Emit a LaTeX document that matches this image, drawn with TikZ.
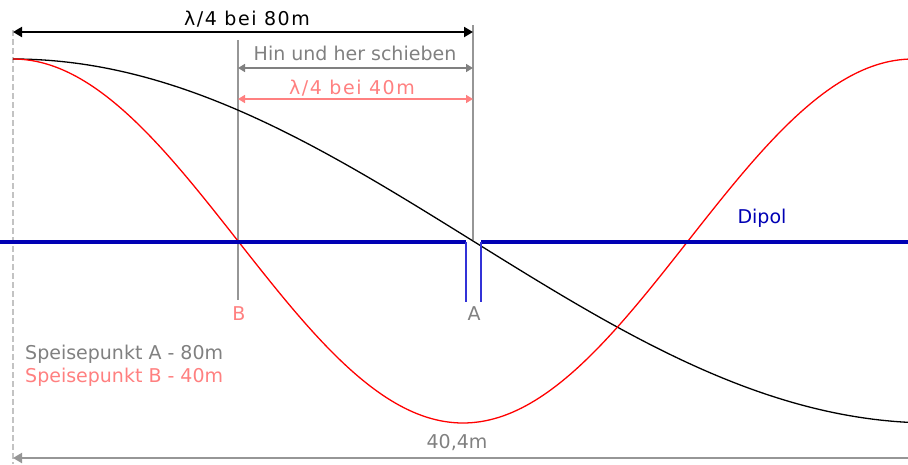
\documentclass[tikz,border=0pt]{standalone}
\usepackage{fontspec}
\setmainfont{DejaVu Sans}
\usetikzlibrary{arrows.meta}
\definecolor{dipolblue}{RGB}{0,0,180}
\definecolor{stubblue}{RGB}{50,50,215}
\definecolor{lightred}{RGB}{255,128,128}
\definecolor{midgray}{RGB}{128,128,128}
\definecolor{linegray}{RGB}{150,150,150}
\definecolor{dashgray}{RGB}{195,195,195}

\begin{document}
\begin{tikzpicture}[x=1pt, y=-1pt,
    lbl/.style={inner sep=0pt, font=\fontsize{19}{22}\selectfont},
    widelbl/.style={inner sep=0pt, font=\fontsize{19}{22}\selectfont\addfontfeature{LetterSpace=8}},
    bigdim/.style={{Triangle[length=9pt,width=10pt]}-{Triangle[length=9pt,width=10pt]}, line width=2pt},
    smalldim/.style={{Triangle[length=7pt,width=8pt]}-{Triangle[length=7pt,width=8pt]}, line width=1.5pt}]
    \useasboundingbox (0,0) rectangle (908,464);

    % reference points
    \coordinate (top0) at (13,30);
    \coordinate (bot0) at (13,464);
    \coordinate (arrL) at (13,32);
    \coordinate (arrR) at (473,32);
    \coordinate (Atop) at (473,25);
    \coordinate (Abot) at (473,240);
    \coordinate (Btop) at (238,40);
    \coordinate (Bbot) at (238,300);
    \coordinate (grayL) at (238,68);
    \coordinate (grayR) at (473,68);
    \coordinate (redL) at (238,99);
    \coordinate (redR) at (473,99);
    \coordinate (dipL) at (0,242);
    \coordinate (dipR) at (908,242);
    \coordinate (feedL) at (466,242);
    \coordinate (feedR) at (481,242);
    \coordinate (feedLb) at (466,302);
    \coordinate (feedRb) at (481,302);
    \coordinate (lenL) at (13,458);
    \coordinate (lenR) at (930,458);

    % guide lines
    \draw[dashgray, line width=1.5pt, dash pattern=on 6pt off 3pt] (top0) -- (bot0);
    \draw[linegray, line width=1.5pt] (Atop) -- (Abot);
    \draw[linegray, line width=1.5pt] (Btop) -- (Bbot);

    % dimensions
    \draw[bigdim, black] (arrL) -- (arrR);
    \draw[smalldim, midgray] (grayL) -- (grayR);
    \draw[smalldim, lightred] (redL) -- (redR);
    \draw[{Triangle[length=9pt,width=10pt]}-, line width=2pt, linegray] (lenL) -- (lenR);

    % curves
    \draw[black, line width=1.3pt] plot[domain=13:908, samples=200] (\x, {241-182*cos((\x-13)/920*180)});
    \draw[red, line width=1.3pt] plot[domain=13:908, samples=200] (\x, {241-182*cos((\x-13)/900*360)});

    % dipole with feed line
    \draw[dipolblue, line width=4pt] (dipL) -- (feedL);
    \draw[dipolblue, line width=4pt] (feedR) -- (dipR);
    \draw[stubblue, line width=2pt] (feedL) -- (feedLb);
    \draw[stubblue, line width=2pt] (feedR) -- (feedRb);

    % labels
    \node[widelbl, black] (t80) at (247,19) {λ/4 bei 80m};
    \node[lbl, midgray] (tshift) at (355,53) {Hin und her schieben};
    \node[widelbl, lightred] (t40) at (352,88) {λ/4 bei 40m};
    \node[lbl, dipolblue] (tdip) at (762,218) {Dipol};
    \node[lbl, lightred] (tB) at (239,314) {B};
    \node[lbl, midgray] (tA) at (474,314) {A};
    \node[lbl, midgray, anchor=west] (spA) at (25,354) {Speisepunkt A - 80m};
    \node[lbl, lightred, anchor=west] (spB) at (25,377) {Speisepunkt B - 40m};
    \node[lbl, midgray] (tlen) at (457,443) {40,4m};
\end{tikzpicture}
\end{document}
